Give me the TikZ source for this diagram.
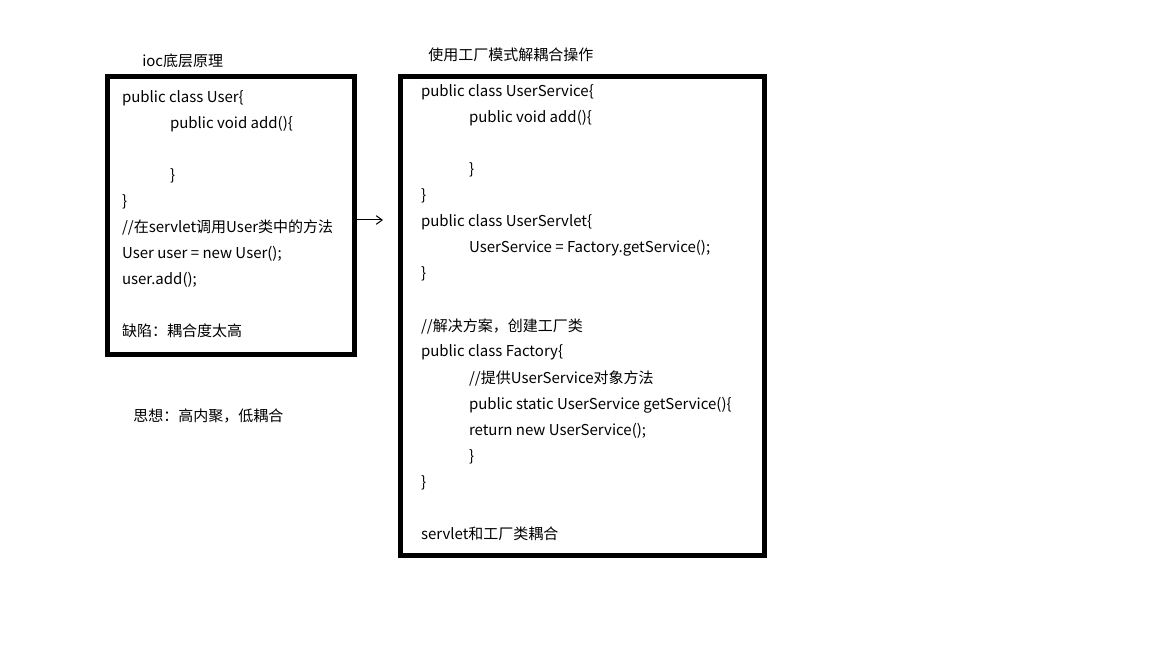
\documentclass[tikz,border=0pt]{standalone}
\usepackage{fontspec}
\setmainfont{Noto Sans CJK SC}
\usetikzlibrary{positioning,arrows.meta}

\begin{document}
\begin{tikzpicture}[
        x=0.75pt,y=0.75pt,
        node distance=8.25pt,
        font=\fontsize{11.25pt}{13pt}\selectfont
    ]
    \tikzset{
        box/.style={draw,line width=3.75pt,inner sep=0pt},
        code/.style={anchor=north west,inner sep=0pt,outer sep=0pt,text height=9pt,text depth=2.25pt},
        nextline/.style={code,below=of #1.south west,anchor=north west},
        gapline/.style={code,below=27.75pt of #1.south west,anchor=north west},
        title/.style={anchor=base west,inner sep=0pt}
    }
    \useasboundingbox (0,0) rectangle (1152,-648);

    \node (usr) [box,minimum width=185.25pt,minimum height=208.5pt] at (231,-215.5) {};
    \node (fac) [box,minimum width=272.5pt,minimum height=359.5pt] at (582.5,-316.2) {};

    \node [title] at (142,-67)  {ioc底层原理};
    \node [title] at (428,-61)  {使用工厂模式解耦合操作};
    \node [title] at (133,-421) {思想：高内聚，低耦合};

    % left box
    \node (u1) [code] at (122,-91)            {public class User\{};
    \node (u2) [nextline=u1,xshift=36pt]       {public void add()\{};
    \node (u3) [gapline=u2]                    {\}};
    \node (u4) [nextline=u3,xshift=-36pt]      {\}};
    \node (u5) [nextline=u4]                   {//在servlet调用User类中的方法};
    \node (u6) [nextline=u5]                   {User user = new User();};
    \node (u7) [nextline=u6]                   {user.add();};
    \node (u8) [gapline=u7]                    {缺陷：耦合度太高};

    % right box
    \node (s1)  [code] at (421,-85)           {public class UserService\{};
    \node (s2)  [nextline=s1,xshift=36pt]      {public void add()\{};
    \node (s3)  [gapline=s2]                   {\}};
    \node (s4)  [nextline=s3,xshift=-36pt]     {\}};
    \node (s5)  [nextline=s4]                  {public class UserServlet\{};
    \node (s6)  [nextline=s5,xshift=36pt]      {UserService = Factory.getService();};
    \node (s7)  [nextline=s6,xshift=-36pt]     {\}};
    \node (s8)  [gapline=s7]                   {//解决方案，创建工厂类};
    \node (s9)  [nextline=s8]                  {public class Factory\{};
    \node (s10) [nextline=s9,xshift=36pt]      {//提供UserService对象方法};
    \node (s11) [nextline=s10]                 {public static UserService getService()\{};
    \node (s12) [nextline=s11]                 {return new UserService();};
    \node (s13) [nextline=s12]                 {\}};
    \node (s14) [nextline=s13,xshift=-36pt]    {\}};
    \node (s15) [gapline=s14]                  {servlet和工厂类耦合};

    \coordinate (tip) at (383,-220);
    \draw [-{Straight Barb[length=4.5pt,width=6.5pt]},line width=0.75pt] (usr.east |- tip) -- (tip);
\end{tikzpicture}
\end{document}
